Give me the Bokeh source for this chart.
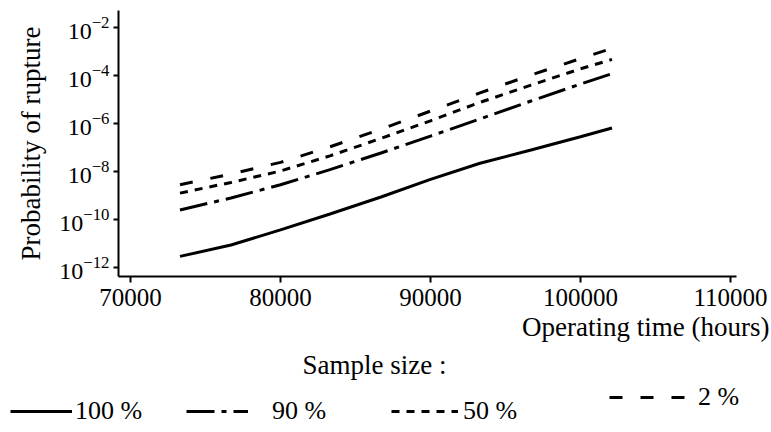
from bokeh.plotting import figure
from bokeh.layouts import column
from bokeh.models import (FixedTicker, Legend, LegendItem, Title,
                          NumeralTickFormatter, LogTickFormatter)
from bokeh.embed import file_html
from bokeh.resources import INLINE

# ---- data ----
hours = [73300, 76700, 80000, 83300, 86700, 90000, 93300, 96700, 100000, 102100]
p_100 = [2.9e-12, 8.7e-12, 3.7e-11, 1.7e-10, 8.7e-10, 4.7e-9, 2.2e-8, 7.9e-8, 2.8e-7, 6.5e-7]
p_90 = [2.5e-10, 7.9e-10, 2.8e-9, 1.2e-8, 5.9e-8, 3.0e-7, 1.55e-6, 8.7e-6, 4.4e-5, 1.2e-4]
p_50 = [1.26e-9, 3.5e-9, 1.05e-8, 4.5e-8, 2.4e-7, 1.3e-6, 7.6e-6, 4.0e-5, 1.9e-4, 4.7e-4]
p_2 = [2.8e-9, 7.9e-9, 2.4e-8, 1.07e-7, 5.8e-7, 3.3e-6, 1.9e-5, 1.05e-4, 5.1e-4, 1.35e-3]
series_labels = ["100 %", "90 %", "50 %", "2 %"]
x_ticks = [70000, 80000, 90000, 100000, 110000]
y_ticks = [1e-12, 1e-10, 1e-8, 1e-6, 1e-4, 1e-2]
x_title = "Operating time (hours)"
y_title = "Probability of rupture"
legend_title = "Sample size :"

FONT = "Liberation Serif"
dashes = ["solid", "28 7 5 7", "8 7", "13 18"]
series = [p_100, p_90, p_50, p_2]

# ================= main chart =================
p = figure(width=771, height=345, y_axis_type="log",
           x_range=(69200, 110400), y_range=(10 ** -12.375, 10 ** -1.29),
           output_backend="svg", toolbar_location=None,
           min_border_left=118, min_border_right=35,
           min_border_top=10, min_border_bottom=69)
p.frame_align = False

p.outline_line_color = None
p.grid.grid_line_color = None
p.background_fill_color = "white"
p.border_fill_color = "white"

p.xaxis.ticker = FixedTicker(ticks=x_ticks, minor_ticks=[])
p.xaxis.formatter = NumeralTickFormatter(format="0")
p.yaxis.ticker = FixedTicker(ticks=y_ticks, minor_ticks=[])
p.yaxis.formatter = LogTickFormatter()
for ax in (p.xaxis, p.yaxis):
    ax.axis_line_color = "black"
    ax.axis_line_width = 2
    ax.major_tick_line_color = "black"
    ax.major_tick_line_width = 2
    ax.major_tick_in = 0
    ax.minor_tick_line_color = None
    ax.major_label_text_font = FONT
    ax.major_label_text_color = "black"
p.xaxis.major_tick_out = 6
p.yaxis.major_tick_out = 5
p.xaxis.major_label_text_font_size = "25px"
p.yaxis.major_label_text_font_size = "24px"
p.xaxis.major_label_standoff = 6
p.yaxis.major_label_standoff = 4

p.yaxis.axis_label = y_title
p.yaxis.axis_label_text_font = FONT
p.yaxis.axis_label_text_font_size = "27px"
p.yaxis.axis_label_text_font_style = "normal"
p.yaxis.axis_label_text_color = "black"
p.yaxis.axis_label_standoff = 10

for ys, dash in zip(series, dashes):
    p.line(hours, ys, line_color="black", line_width=3, line_dash=dash)

t1 = Title(text=x_title, align="right", offset=-33, text_font=FONT,
           text_font_size="27px", text_font_style="normal", text_color="black",
           standoff=2)
p.add_layout(t1, "below")

# ================= legend strip =================
lg = figure(width=771, height=87, x_range=(0, 1), y_range=(0, 1),
            output_backend="svg", toolbar_location=None, min_border=0,
            min_border_left=0, min_border_right=0)
lg.frame_align = False
lg.axis.visible = False
lg.grid.grid_line_color = None
lg.outline_line_color = None
lg.background_fill_color = "white"
lg.border_fill_color = "white"
lg.title.text = legend_title
lg.title.align = "left"
lg.title.offset = 302
lg.title.text_font = FONT
lg.title.text_font_size = "27px"
lg.title.text_font_style = "normal"
lg.title.text_color = "black"
lg.title.standoff = 4

# legend renderers: same series, lying outside this strip's visible ranges
proxies = [lg.line(hours, ys, line_color="black", line_width=3, line_dash=d)
           for ys, d in zip(series, dashes)]

leg_pos = [(10, 6), (186, 6), (391, 6), (609, 20)]
glyph_w = [62, 62, 67, 84]
standoffs = [3, 24, 5, 5]
for r, lab, pos, gw, so in zip(proxies, series_labels, leg_pos, glyph_w, standoffs):
    leg = Legend(items=[LegendItem(label=lab, renderers=[r])], location=pos,
                 orientation="horizontal", border_line_color=None,
                 background_fill_alpha=0, padding=0, margin=0,
                 glyph_width=gw, glyph_height=28, label_height=28,
                 label_standoff=so, label_text_font=FONT,
                 label_text_font_size="26px", label_text_color="black")
    lg.add_layout(leg, "center")

layout = column(p, lg, spacing=0)
open("out.html", "w").write(file_html(layout, INLINE))
